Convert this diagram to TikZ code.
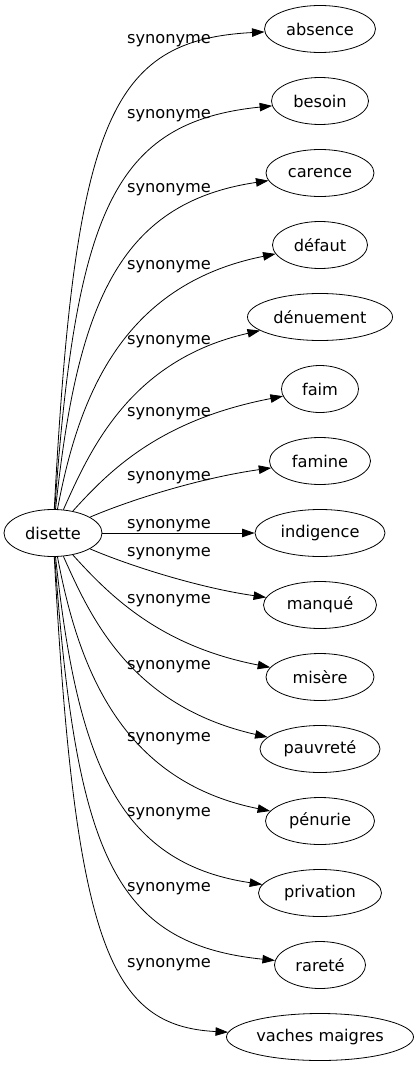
\documentclass[tikz,border=0pt]{standalone}
\usepackage{fontspec}
\setmainfont{DejaVu Sans}
\usetikzlibrary{arrows.meta,shapes.geometric}

\begin{document}
\begin{tikzpicture}[x=1pt,y=-1pt,
  word/.style={draw,ellipse,line width=0.8pt,inner sep=0pt,minimum height=47pt,
    font=\fontsize{16.2}{19}\selectfont},
  rel/.style={font=\fontsize{16.2}{19}\selectfont},
  syn/.style={line width=0.8pt,-{Triangle[length=12.5pt,width=8.5pt]}}]

\useasboundingbox (0,0) rectangle (419,1067);

% head word
\node[word,minimum width=98pt] (disette) at (53,533) {disette};

% synonyms
\node[word,minimum width=111pt] (absence) at (320,29) {absence};
\node[word,minimum width=97pt] (besoin) at (320,101) {besoin};
\node[word,minimum width=108pt] (carence) at (320,173) {carence};
\node[word,minimum width=95pt] (defaut) at (320,245) {défaut};
\node[word,minimum width=145pt] (denuement) at (320,317) {dénuement};
\node[word,minimum width=77pt] (faim) at (320,389) {faim};
\node[word,minimum width=101pt] (famine) at (320,461) {famine};
\node[word,minimum width=130pt] (indigence) at (320,533) {indigence};
\node[word,minimum width=113pt] (manque) at (320,605) {manqué};
\node[word,minimum width=108pt] (misere) at (320,677) {misère};
\node[word,minimum width=120pt] (pauvrete) at (320,749) {pauvreté};
\node[word,minimum width=109pt] (penurie) at (320,821) {pénurie};
\node[word,minimum width=123pt] (privation) at (320,893) {privation};
\node[word,minimum width=91pt] (rarete) at (320,965) {rareté};
\node[word,minimum width=187pt] (vaches) at (320,1037) {vaches maigres};

% edges, upper half
\draw[syn] (disette) .. controls (75,120) and (110,40) .. (absence);
\draw[syn] (disette) .. controls (76,213) and (113,122) .. (besoin);
\draw[syn] (disette) .. controls (77,307) and (117,203) .. (carence);
\draw[syn] (disette) .. controls (78,400) and (120,285) .. (defaut);
\draw[syn] (disette) .. controls (90,450) and (130,360) .. (denuement);
\draw[syn] (disette) .. controls (110,470) and (160,420) .. (faim);
\draw[syn] (disette) .. controls (130,500) and (200,478) .. (famine);

% straight edge
\draw[syn] (disette) -- (indigence);

% edges, lower half
\draw[syn] (disette) .. controls (130,566) and (200,588) .. (manque);
\draw[syn] (disette) .. controls (110,596) and (160,646) .. (misere);
\draw[syn] (disette) .. controls (90,616) and (130,706) .. (pauvrete);
\draw[syn] (disette) .. controls (78,666) and (120,781) .. (penurie);
\draw[syn] (disette) .. controls (77,759) and (117,863) .. (privation);
\draw[syn] (disette) .. controls (76,853) and (113,944) .. (rarete);
\draw[syn] (disette) .. controls (75,946) and (110,1026) .. (vaches);

% edge labels
\node[rel] (l-absence) at (169,41) {synonyme};
\node[rel] (l-besoin) at (169,116) {synonyme};
\node[rel] (l-carence) at (169,190) {synonyme};
\node[rel] (l-defaut) at (169,267) {synonyme};
\node[rel] (l-denuement) at (169,342) {synonyme};
\node[rel] (l-faim) at (169,414) {synonyme};
\node[rel] (l-famine) at (169,478) {synonyme};
\node[rel] (l-indigence) at (169,526) {synonyme};
\node[rel] (l-manque) at (169,554) {synonyme};
\node[rel] (l-misere) at (169,601) {synonyme};
\node[rel] (l-pauvrete) at (169,667) {synonyme};
\node[rel] (l-penurie) at (169,739) {synonyme};
\node[rel] (l-privation) at (169,814) {synonyme};
\node[rel] (l-rarete) at (169,889) {synonyme};
\node[rel] (l-vaches) at (169,965) {synonyme};
\end{tikzpicture}
\end{document}
